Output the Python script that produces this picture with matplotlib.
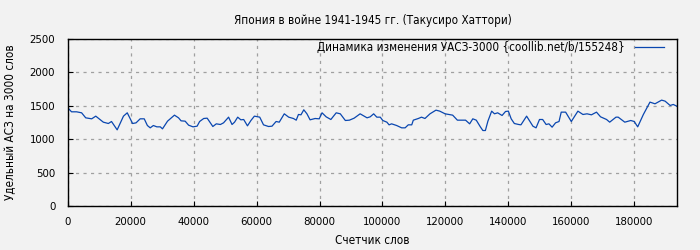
import matplotlib
matplotlib.use('Agg')
import matplotlib.pyplot as plt

# word counter (thousands of words) and specific ASZ per 3000 words
words_k = [0, 1.2, 2.8, 4.4, 5.7, 7.6, 8.9, 11.3, 12.9, 13.9, 15.7, 17.7, 18.9,
           20.6, 21.7, 23.0, 24.3, 25.3, 26.2, 27.2, 28.3, 29.4, 30.1, 31.7,
           33.9, 35.2, 36.0, 37.3, 38.4, 39.8, 41.1, 41.9, 43.2, 44.3, 45.3,
           46.1, 47.2, 48.5, 49.5, 51.1, 52.2, 53.0, 54.0, 55.0, 55.9, 57.1,
           58.2, 59.3, 61.0, 62.2, 63.8, 64.9, 66.2, 67.2, 68.8, 70.2, 71.7,
           72.6, 73.3, 74.1, 75.0, 76.0, 77.0, 78.6, 79.9, 80.8, 82.1, 83.6,
           85.3, 86.6, 88.2, 89.5, 91.0, 92.9, 95.1, 96.1, 97.2, 98.2, 99.3,
           100.1, 101.4, 102.1, 102.9, 104.5, 106.1, 107.2, 108.2, 109.3,
           109.8, 111.4, 112.4, 113.5, 115.1, 117.0, 118.2, 119.9, 122.3,
           123.8, 126.4, 127.7, 128.7, 129.8, 131.1, 131.9, 132.7, 133.5,
           134.7, 135.6, 136.6, 138.0, 139.1, 140.0, 140.9, 141.9, 143.3,
           144.0, 145.8, 147.8, 148.8, 149.9, 150.9, 152.0, 152.9, 153.9,
           155.0, 156.1, 156.8, 158.2, 160.0, 162.1, 163.7, 165.0, 166.4,
           168.0, 169.3, 171.2, 172.2, 174.2, 174.9, 177.0, 178.9, 180.0,
           181.1, 182.9, 185.0, 186.6, 188.7, 189.8, 191.4, 192.4, 193.5]
uasz = [1470, 1410, 1410, 1395, 1320, 1305, 1345, 1255, 1235, 1265, 1140, 1345, 1395,
        1235, 1245, 1305, 1305, 1205, 1170, 1205, 1185, 1185, 1155, 1270,
        1360, 1320, 1275, 1270, 1210, 1185, 1195, 1265, 1310, 1315, 1245,
        1190, 1230, 1220, 1245, 1330, 1220, 1255, 1330, 1290, 1295, 1200,
        1280, 1345, 1330, 1215, 1190, 1195, 1265, 1255, 1380, 1330, 1310,
        1285, 1370, 1365, 1440, 1380, 1290, 1310, 1305, 1395, 1335, 1295,
        1395, 1380, 1280, 1285, 1315, 1380, 1320, 1335, 1380, 1330, 1330,
        1280, 1255, 1215, 1230, 1205, 1170, 1170, 1215, 1215,
        1285, 1310, 1330, 1310, 1380, 1435, 1420, 1380, 1360,
        1285, 1285, 1230, 1305, 1285, 1185, 1130, 1130, 1270,
        1420, 1380, 1395, 1355, 1415, 1420, 1305, 1235, 1220,
        1215, 1345, 1195, 1170, 1295, 1295, 1220, 1230, 1180,
        1245, 1265, 1405, 1405, 1265, 1420, 1370, 1380, 1365,
        1405, 1335, 1295, 1255, 1330, 1330, 1255, 1280, 1265,
        1185, 1370, 1555, 1530, 1585, 1570, 1505, 1520, 1495]
words = [w * 1000 for w in words_k]

xticks = [0, 20000, 40000, 60000, 80000, 100000, 120000, 140000, 160000, 180000]
yticks = [0, 500, 1000, 1500, 2000, 2500]

bg = '#f2f2f2'
fs = 8.4
plt.rcParams['font.family'] = ['DejaVu Sans']
plt.rcParams['font.stretch'] = 'condensed'
plt.rcParams['font.size'] = fs

fig = plt.figure(figsize=(7, 2.5), dpi=100, facecolor=bg)
ax = fig.add_axes([0.0968, 0.176, 0.8704, 0.668], facecolor=bg)

ax.plot(words, uasz, color='#0a47b0', lw=0.9,
        label='Динамика изменения УАСЗ-3000 {coollib.net/b/155248}')

ax.set_xlim(0, 193600)
ax.set_ylim(0, 2500)
ax.set_xticks(xticks)
ax.set_yticks(yticks)
ax.grid(True, color='#a0a0a0', linestyle=(0, (2.5, 3.5)), lw=0.9)
ax.tick_params(direction='in', length=3.6, color='black', labelsize=8.2)
ax.tick_params(axis='y', pad=9)
ax.tick_params(axis='x', pad=8)
for s in ax.spines.values():
    s.set_color('black')
    s.set_linewidth(1)

ax.set_title('Япония в войне 1941-1945 гг. (Такусиро Хаттори)', fontsize=fs, pad=11)
ax.set_xlabel('Счетчик слов', fontsize=fs, labelpad=5)
ax.set_ylabel('Удельный АСЗ на 3000 слов', fontsize=fs, labelpad=9)

leg = ax.legend(loc='upper right', bbox_to_anchor=(0.982, 1.0), frameon=False,
                markerfirst=False, fontsize=fs, handlelength=2.45,
                borderaxespad=0.0, borderpad=0.2, handletextpad=0.9)

fig.savefig('out.png', dpi=100, facecolor=bg)
